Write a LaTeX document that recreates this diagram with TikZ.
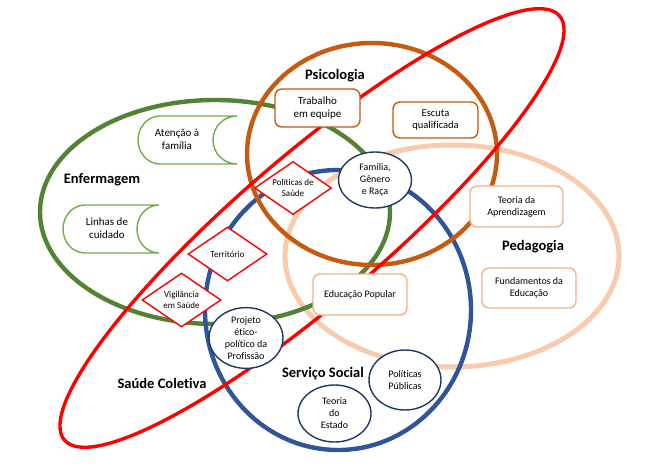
\documentclass[tikz,border=0pt]{standalone}
\usepackage{fontspec}
\setmainfont{Carlito}[Ligatures={NoCommon}]
\usetikzlibrary{shapes.geometric}
\definecolor{cgreen}{HTML}{548235}
\definecolor{clgreen}{HTML}{70AD47}
\definecolor{cbrown}{HTML}{C55A11}
\definecolor{cblue}{HTML}{2F5597}
\definecolor{cpeach}{HTML}{F8CBAD}
\definecolor{corange}{HTML}{F4B183}
\definecolor{cred}{HTML}{FF0000}
\definecolor{cnavy}{HTML}{1F3864}
\begin{document}
\begin{tikzpicture}[x=1pt,y=-1pt,
  ring/.style={line width=4.4pt},
  boxnode/.style={draw, rounded corners=7pt, fill=white, line width=1.4pt, align=center, inner sep=0pt, font=\fontsize{11}{13}\selectfont},
  dia/.style={diamond, draw=cred, fill=white, line width=1.4pt, inner sep=0pt, aspect=1.46, align=center, font=\fontsize{9}{10.5}\selectfont, minimum width=79pt, minimum height=54pt},
  oval/.style={ellipse, draw=cnavy, fill=white, line width=1.4pt, inner sep=0pt, align=center, font=\fontsize{10}{12}\selectfont},
  scrollline/.style={draw=clgreen, fill=white, line width=1.4pt},
  scrolltext/.style={align=center, inner sep=0pt, font=\fontsize{11}{13}\selectfont},
  areatitle/.style={font=\fontsize{14.5}{16}\selectfont\bfseries, inner sep=0pt}
]
\useasboundingbox (0,0) rectangle (650,465);
% big areas
\draw[ring, draw=cpeach, line width=5pt] (452,256) ellipse [x radius=167pt, y radius=111pt];
\draw[ring, draw=cgreen] (215,212) ellipse [x radius=175pt, y radius=112pt];
\draw[ring, draw=cblue] (338,310) ellipse [x radius=133pt, y radius=140pt];
\draw[ring, draw=cbrown] (372,154) ellipse [x radius=125pt, y radius=111pt];
\draw[draw=cred, line width=3.4pt, rotate around={40.6:(312,228)}] (312,228) ellipse [x radius=326pt, y radius=73pt];
% titles
\node[areatitle] (tpsi) at (335,76) {Psicologia};
\node[areatitle] (tenf) at (102,180) {Enfermagem};
\node[areatitle] (tped) at (533,247) {Pedagogia};
\node[areatitle] (tss) at (323,374) {Serviço Social};
\node[areatitle] (tsc) at (162,383) {Saúde Coletiva};
% scroll shapes
\path[scrollline] (160,116) -- (237,116) arc[start angle=90, end angle=270, x radius=24pt, y radius=24pt] -- (160,164) arc[start angle=270, end angle=90, x radius=22pt, y radius=24pt] -- cycle;
\node[scrolltext] (aten) at (177,139) {Atenção à\\família};
\path[scrollline] (85,205) -- (159,205) arc[start angle=90, end angle=270, x radius=22pt, y radius=24pt] -- (85,253) arc[start angle=270, end angle=90, x radius=22pt, y radius=24pt] -- cycle;
\node[scrolltext] (linhas) at (107,228) {Linhas de\\cuidado};
% boxes
\node[boxnode, draw=cbrown, minimum width=85pt, minimum height=38pt] (trab) at (317.5,108) {Trabalho\\em equipe};
\node[boxnode, draw=cbrown, minimum width=85pt, minimum height=36pt, font=\fontsize{10.5}{12.5}\selectfont] (escuta) at (435.5,120) {Escuta\\qualificada};
\node[boxnode, draw=corange, minimum width=93pt, minimum height=41pt, font=\fontsize{10}{12}\selectfont] (teoap) at (516.5,206.5) {Teoria da\\Aprendizagem};
\node[boxnode, draw=corange, minimum width=94pt, minimum height=40pt, font=\fontsize{10}{12}\selectfont] (fund) at (529,288) {Fundamentos da\\Educação};
\node[boxnode, draw=corange, minimum width=94pt, minimum height=41pt, font=\fontsize{10}{12}\selectfont] (edpop) at (360,294.5) {Educação Popular};
% diamonds
\node[dia, minimum width=77pt, minimum height=53pt] (polsau) at (293,188) {Políticas de\\Saúde};
\node[dia] (terr) at (227.5,254) {Território};
\node[dia] (vig) at (181.5,300) {Vigilância\\em Saúde};
% ovals
\node[oval, minimum width=73pt, minimum height=56pt] (fam) at (375,180) {Família,\\Gênero\\e Raça};
\node[oval, minimum width=74pt, minimum height=58pt] (proj) at (246,338) {Projeto\\ético-\\político da\\Profissão};
\node[oval, minimum width=72pt, minimum height=60pt] (polpub) at (405,380) {Políticas\\Públicas};
\node[oval, minimum width=73pt, minimum height=57pt] (teoest) at (334.5,413.5) {Teoria\\do\\Estado};
\end{tikzpicture}
\end{document}
